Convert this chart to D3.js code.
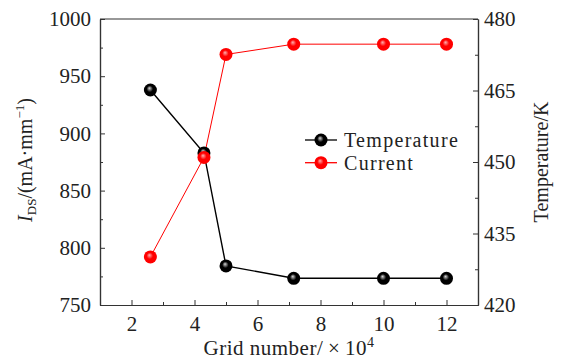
<!DOCTYPE html>
<html>
<head>
<meta charset="utf-8">
<script src="https://cdn.jsdelivr.net/npm/d3@7"></script>
<style>
  body { margin: 0; background: #fff; }
</style>
</head>
<body>
<svg id="chart" width="562" height="361"></svg>
<script>
const gridNumbers = [2.6, 4.3, 5.0, 7.15, 10.0, 12.0];
const temperature = [465.1, 451.9, 428.2, 425.6, 425.6, 425.6];
const current = [792, 879, 969, 978, 978, 978];
const xTicks = [2, 4, 6, 8, 10, 12];
const leftTicks = [750, 800, 850, 900, 950, 1000];
const rightTicks = [420, 435, 450, 465, 480];

const MARGIN = { top: 19, right: 84, bottom: 56, left: 100 };
const WIDTH = 562 - MARGIN.left - MARGIN.right;
const HEIGHT = 361 - MARGIN.top - MARGIN.bottom;
const AXIS = '#333';
const FONT = '"Liberation Serif"';

const svg = d3.select('#chart');
const defs = svg.append('defs');

function sphere(id, base, light) {
  const g = defs.append('radialGradient')
    .attr('id', id)
    .attr('cx', '0.5').attr('cy', '0.5').attr('r', '0.55')
    .attr('fx', '0.42').attr('fy', '0.35');
  g.append('stop').attr('offset', '0').attr('stop-color', light);
  g.append('stop').attr('offset', '0.45').attr('stop-color', base);
  g.append('stop').attr('offset', '1').attr('stop-color', base);
}
sphere('ballBlack', '#000', '#d8d8d8');
sphere('ballRed', '#f00', '#ffb0b0');

const chart = svg.append('g')
  .attr('transform', `translate(${MARGIN.left},${MARGIN.top})`);

const x = d3.scaleLinear().domain([1, 13]).range([0, WIDTH]);
const yL = d3.scaleLinear().domain([750, 1000]).range([HEIGHT, 0]);
const yR = d3.scaleLinear().domain([420, 480]).range([HEIGHT, 0]);

// minor ticks
const xMinor = d3.range(1, 14, 2);
const yLMinor = d3.range(775, 1000, 50);
const yRMinor = d3.range(427.5, 480, 15);

chart.append('g')
  .attr('transform', `translate(0,${HEIGHT})`)
  .call(d3.axisBottom(x).tickValues(xTicks).tickSizeInner(-5).tickSizeOuter(0).tickPadding(11).tickFormat(d3.format('d')));
chart.append('g')
  .attr('transform', `translate(0,${HEIGHT})`)
  .call(d3.axisBottom(x).tickValues(xMinor).tickSizeInner(-3).tickSizeOuter(0).tickFormat(''));

chart.append('g')
  .call(d3.axisLeft(yL).tickValues(leftTicks).tickSizeInner(-5).tickSizeOuter(0).tickPadding(9).tickFormat(d3.format('d')));
chart.append('g')
  .call(d3.axisLeft(yL).tickValues(yLMinor).tickSizeInner(-3).tickSizeOuter(0).tickFormat(''));

chart.append('g')
  .attr('transform', `translate(${WIDTH},0)`)
  .call(d3.axisRight(yR).tickValues(rightTicks).tickSizeInner(-5).tickSizeOuter(0).tickPadding(6).tickFormat(d3.format('d')));
chart.append('g')
  .attr('transform', `translate(${WIDTH},0)`)
  .call(d3.axisRight(yR).tickValues(yRMinor).tickSizeInner(-3).tickSizeOuter(0).tickFormat(''));

chart.selectAll('g').attr('font-family', null).attr('font-size', null);
chart.selectAll('.domain').attr('stroke', AXIS).attr('stroke-width', 1.2);
chart.selectAll('.tick line').attr('stroke', AXIS).attr('stroke-width', 1);
chart.selectAll('.tick text').attr('fill', '#222').attr('font-size', 21);

chart.append('line')
  .attr('x1', 0).attr('x2', WIDTH).attr('y1', 0).attr('y2', 0)
  .attr('stroke', AXIS).attr('stroke-width', 1.2);

const tempData = gridNumbers.map((g, i) => ({ g, v: temperature[i] }));
const curData = gridNumbers.map((g, i) => ({ g, v: current[i] }));

chart.append('path')
  .datum(curData)
  .attr('fill', 'none').attr('stroke', '#f00').attr('stroke-width', 1)
  .attr('d', d3.line().x(d => x(d.g)).y(d => yL(d.v)));
chart.append('path')
  .datum(tempData)
  .attr('fill', 'none').attr('stroke', '#000').attr('stroke-width', 1.4)
  .attr('d', d3.line().x(d => x(d.g)).y(d => yR(d.v)));

chart.selectAll('.temp').data(tempData).enter()
  .append('circle').attr('class', 'temp')
  .attr('cx', d => x(d.g)).attr('cy', d => yR(d.v)).attr('r', 6.5)
  .attr('fill', 'url(#ballBlack)');
chart.selectAll('.cur').data(curData).enter()
  .append('circle').attr('class', 'cur')
  .attr('cx', d => x(d.g)).attr('cy', d => yL(d.v)).attr('r', 6.5)
  .attr('fill', 'url(#ballRed)');

// legend
const legend = [
  { label: 'Temperature', color: '#000', fill: 'url(#ballBlack)', y: 140 },
  { label: 'Current', color: '#f00', fill: 'url(#ballRed)', y: 162.7 },
];
const lg = svg.selectAll('.legend').data(legend).enter()
  .append('g').attr('class', 'legend')
  .attr('transform', d => `translate(305,${d.y})`);
lg.append('line').attr('x1', 0).attr('x2', 32).attr('stroke', d => d.color).attr('stroke-width', 1.3);
lg.append('circle').attr('cx', 16).attr('r', 6.5).attr('fill', d => d.fill);
lg.append('text').attr('x', 39).attr('dy', '0.35em')
  .attr('font-size', 20).attr('letter-spacing', 1.3).attr('fill', '#222').text(d => d.label);

// axis titles
const xt = svg.append('text')
  .attr('x', MARGIN.left + WIDTH / 2).attr('y', 355)
  .attr('text-anchor', 'middle').attr('font-size', 21).attr('letter-spacing', 0.5).attr('fill', '#222');
xt.append('tspan').text('Grid number/\u2009\u00d7\u200910');
xt.append('tspan').attr('font-size', 14).attr('dy', -8).text('4');

const yt = svg.append('text')
  .attr('transform', 'translate(32,160) rotate(-90)')
  .attr('text-anchor', 'middle').attr('font-size', 20).attr('fill', '#222');
yt.append('tspan').attr('font-style', 'italic').text('I');
yt.append('tspan').attr('font-size', 13).attr('dy', 4).text('DS');
yt.append('tspan').attr('dy', -4).text('/(mA\u00b7mm');
yt.append('tspan').attr('font-size', 13).attr('dy', -8).text('\u22121');
yt.append('tspan').attr('dy', 8).text(')');

svg.append('text')
  .attr('transform', 'translate(548,162) rotate(-90)')
  .attr('text-anchor', 'middle').attr('font-size', 20).attr('fill', '#222')
  .text('Temperature/K');

svg.selectAll('text').style('font-family', FONT);
</script>
</body>
</html>
